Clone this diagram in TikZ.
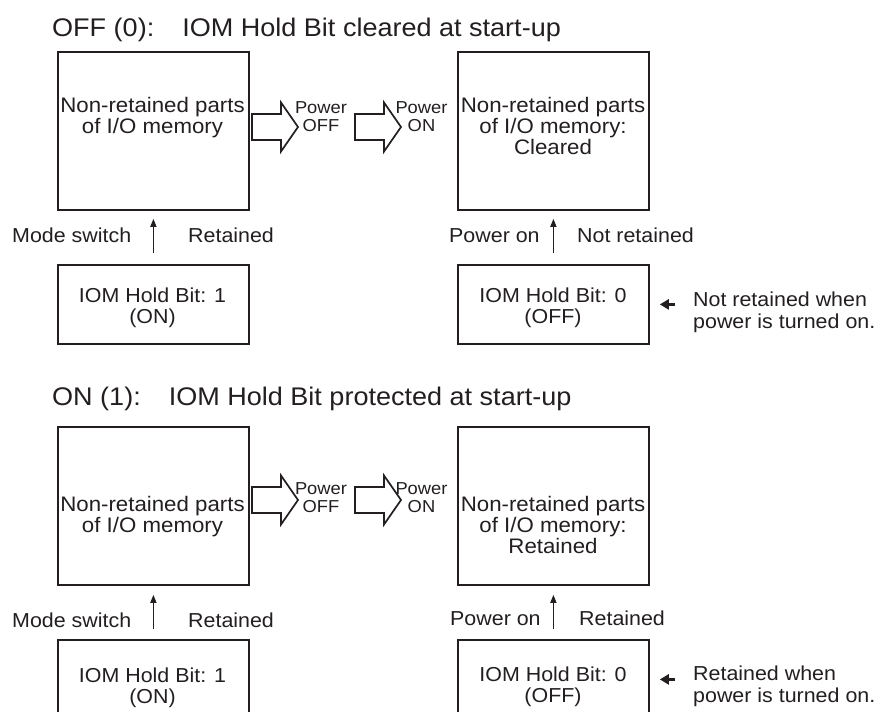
\documentclass[tikz,border=0pt]{standalone}
\usepackage{fontspec}
\setmainfont{Liberation Sans}[FakeStretch=1.06]
\usetikzlibrary{arrows.meta}
\definecolor{ink}{HTML}{231F20}
\begin{document}
\begin{tikzpicture}[x=1pt,y=-1pt,color=ink,
  membox/.style={draw,line width=1.8pt,minimum width=191pt,minimum height=158pt,inner sep=0pt,anchor=north west},
  bitbox/.style={draw,line width=1.8pt,minimum width=191pt,minimum height=79pt,inner sep=0pt,anchor=north west},
  titletext/.style={font=\fontsize{25.5}{30}\selectfont,anchor=base west,inner sep=0pt},
  boxtext/.style={font=\fontsize{21}{21}\selectfont,align=center,anchor=base,inner sep=0pt},
  bittext/.style={font=\fontsize{20.2}{21}\selectfont,align=center,anchor=base,inner sep=0pt},
  lbl/.style={font=\fontsize{20.2}{21}\selectfont,anchor=base west,inner sep=0pt},
  powertext/.style={font=\fontsize{17.3}{18}\selectfont,align=center,anchor=base,inner sep=0pt},
  notetext/.style={font=\fontsize{20.2}{21.5}\selectfont,align=left,anchor=base west,inner sep=0pt},
  uparrow/.style={line width=1.3pt,-{Triangle[length=8pt,width=6pt]}},
  notearrow/.style={line width=2.4pt,-{Triangle[length=9pt,width=10pt]}},
  bigarrow/.style={draw,line width=1.7pt,fill=white,line join=miter},
  blockarrow/.pic={\draw[bigarrow] (0,-13) -- (29,-13) -- (29,-24.5) -- (46,0) -- (29,24.5) -- (29,13) -- (0,13) -- cycle;}
]
\useasboundingbox (0,0) rectangle (879,712);
\clip (0,0) rectangle (879,712);
\fill[white] (0,0) rectangle (879,712);

% ---------- Section 1 ----------
\node[titletext] (title1) at (52,36) {OFF (0):\hspace{28pt}IOM Hold Bit cleared at start-up};
\node[membox] (bA1) at (57,51) {};
\node[membox] (bC1) at (457,51) {};
\node[boxtext] (tA1) at (152.5,133) {Non-retained parts\\of I/O memory};
\node[boxtext] (tC1) at (553,154) {Non-retained parts\\of I/O memory:\\Cleared};
\pic (arA1) at (252,127) {blockarrow};
\pic (arB1) at (355,127) {blockarrow};
\node[powertext] (pOff1) at (321,131) {Power\\OFF};
\node[powertext] (pOn1) at (421.5,131) {Power\\ON};

\node[bitbox] (bB1) at (57,264) {};
\node[bitbox] (bD1) at (457,264) {};
\node[bittext] (tB1) at (152.5,323) {IOM Hold Bit: 1\\(ON)};
\node[bittext] (tD1) at (553,323) {IOM Hold Bit: 0\\(OFF)};
\draw[uparrow,shorten <=11pt,shorten >=8pt] (bB1.north) -- (bA1.south);
\draw[uparrow,shorten <=11pt,shorten >=8pt] (bD1.north) -- (bC1.south);
\node[lbl] (lMode1) at (12,242) {Mode switch};
\node[lbl] (lRet1) at (188,242) {Retained};
\node[lbl] (lPow1) at (449,242) {Power on};
\node[lbl] (lNot1) at (577,242) {Not retained};
\node[notetext] (n1) at (693,328) {Not retained when\\power is turned on.};
\draw[notearrow,shorten <=18pt,shorten >=10pt] (n1.west |- bD1.east) -- (bD1.east);

% ---------- Section 2 ----------
\node[titletext] (title2) at (52,405) {ON (1):\hspace{28pt}IOM Hold Bit protected at start-up};
\node[membox] (bA2) at (57,426) {};
\node[membox] (bC2) at (457,426) {};
\node[boxtext] (tA2) at (152.5,532) {Non-retained parts\\of I/O memory};
\node[boxtext] (tC2) at (553,553) {Non-retained parts\\of I/O memory:\\Retained};
\pic (arA2) at (252,500) {blockarrow};
\pic (arB2) at (355,500) {blockarrow};
\node[powertext] (pOff2) at (321,512) {Power\\OFF};
\node[powertext] (pOn2) at (421.5,512) {Power\\ON};

\node[bitbox] (bB2) at (57,639) {};
\node[bitbox] (bD2) at (457,639) {};
\node[bittext] (tB2) at (152.5,703) {IOM Hold Bit: 1\\(ON)};
\node[bittext] (tD2) at (553,702) {IOM Hold Bit: 0\\(OFF)};
\draw[uparrow,shorten <=10pt,shorten >=9pt] (bB2.north) -- (bA2.south);
\draw[uparrow,shorten <=10pt,shorten >=9pt] (bD2.north) -- (bC2.south);
\node[lbl] (lMode2) at (12,627) {Mode switch};
\node[lbl] (lRet2) at (188,627) {Retained};
\node[lbl] (lPow2) at (450,625) {Power on};
\node[lbl] (lRet2b) at (579,625) {Retained};
\node[notetext] (n2) at (693,702) {Retained when\\power is turned on.};
\draw[notearrow,shorten <=18pt,shorten >=10pt] (n2.west |- bD2.east) -- (bD2.east);
\end{tikzpicture}
\end{document}
